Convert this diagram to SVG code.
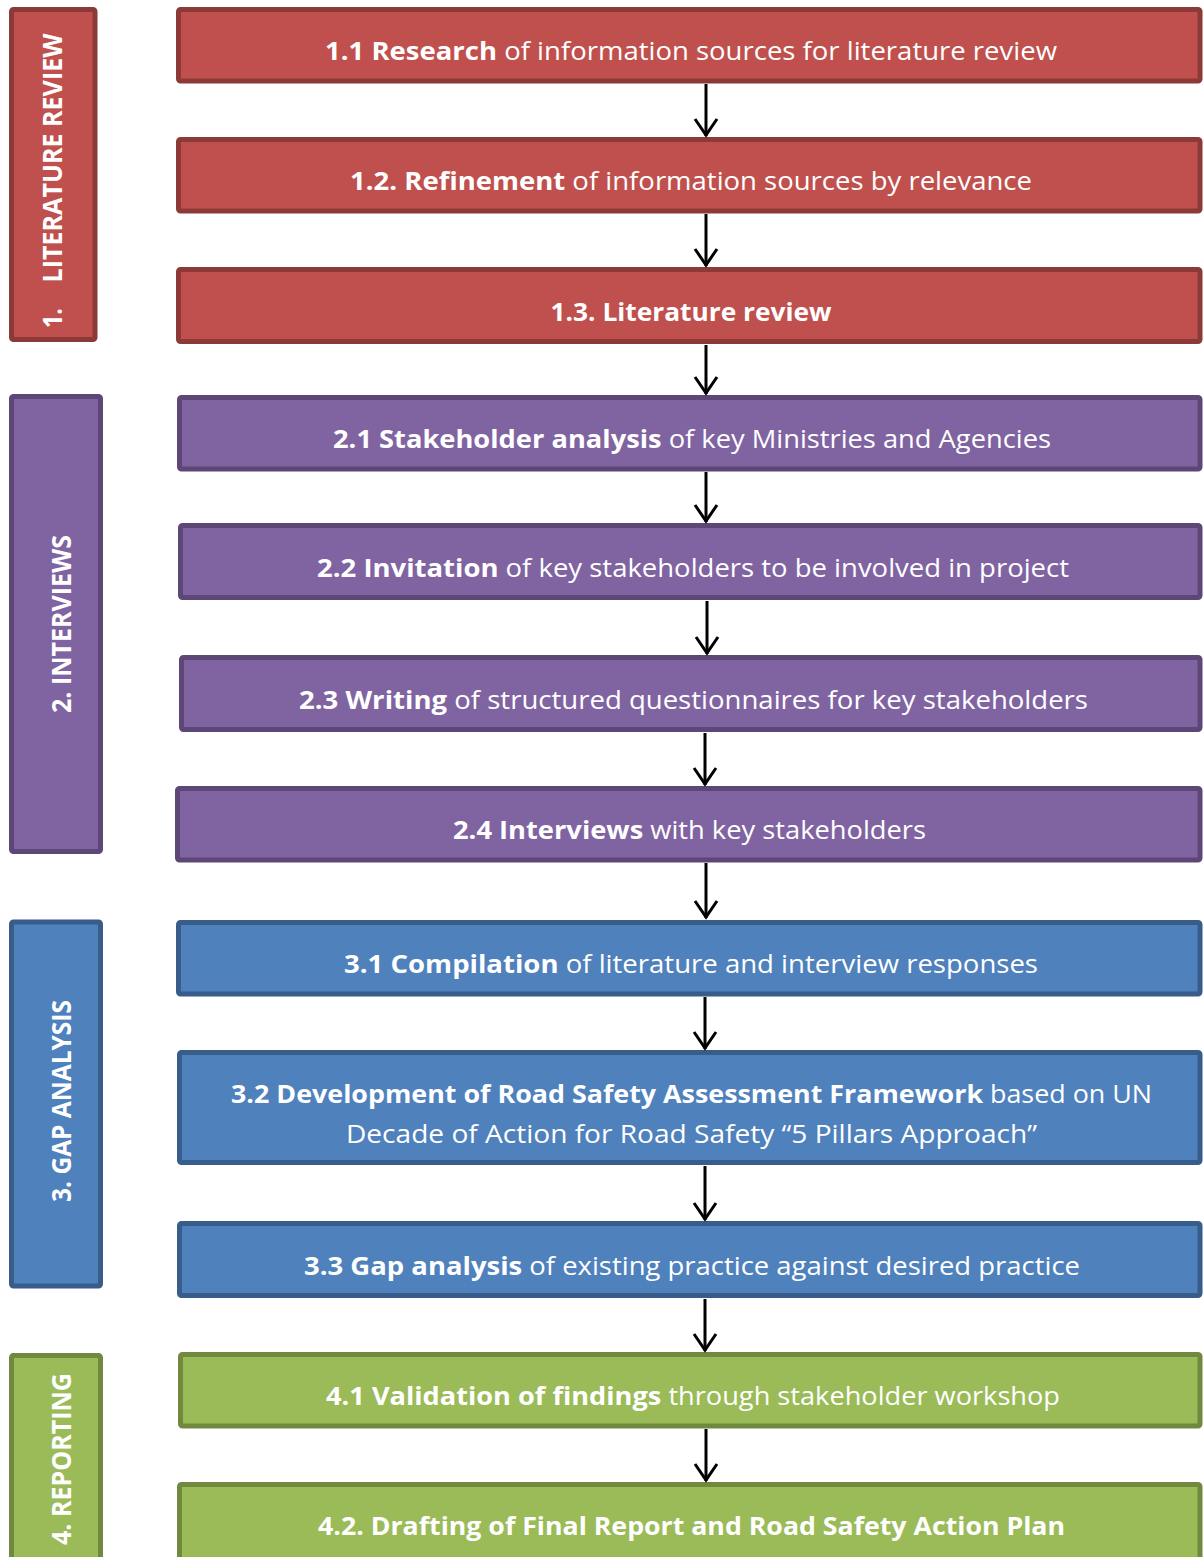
<svg xmlns="http://www.w3.org/2000/svg" width="1203" height="1557" viewBox="0 0 1203 1557">
<defs>
<style>
.box{stroke-width:5;}
.red{fill:#C0504D;stroke:#8C3A38;}
.pur{fill:#8064A2;stroke:#5C4776;}
.blu{fill:#4F81BD;stroke:#385D8A;}
.grn{fill:#9BBB59;stroke:#71893F;}
.t{font-family:"Open Sans","Liberation Sans",sans-serif;font-size:25px;fill:#fff;text-anchor:middle;}
.b{font-weight:bold;}
.s{font-family:"Open Sans","Liberation Sans",sans-serif;font-size:26px;font-weight:bold;fill:#fff;text-anchor:middle;}
.arr{stroke:#000;stroke-width:3;fill:none;}
</style>
<marker id="ah" markerUnits="userSpaceOnUse" markerWidth="30" markerHeight="30" viewBox="-20 -15 30 30" refX="0" refY="0" orient="auto">
<path d="M-17,-11 L-1,0 L-17,11" fill="none" stroke="#000" stroke-width="3"/>
</marker>
</defs>
<rect width="1203" height="1557" fill="#fff"/>

<g id="side1"><rect class="box red" x="11.5" y="9.5" width="83.5" height="330" rx="2"/>
<text class="s" transform="translate(62,318) rotate(-90)" textLength="20" lengthAdjust="spacingAndGlyphs">1.</text>
<text class="s" transform="translate(62,158) rotate(-90)" textLength="249" lengthAdjust="spacingAndGlyphs">LITERATURE REVIEW</text></g>
<g id="side2"><rect class="box pur" x="11.5" y="396.5" width="89" height="455" rx="2"/>
<text class="s" transform="translate(71,624) rotate(-90)" textLength="178" lengthAdjust="spacingAndGlyphs">2. INTERVIEWS</text></g>
<g id="side3"><rect class="box blu" x="11.5" y="922" width="89" height="364" rx="2"/>
<text class="s" transform="translate(71,1101) rotate(-90)" textLength="202" lengthAdjust="spacingAndGlyphs">3. GAP ANALYSIS</text></g>
<g id="side4"><rect class="box grn" x="11.5" y="1355.5" width="89" height="215" rx="2"/>
<text class="s" transform="translate(71,1459) rotate(-90)" textLength="172" lengthAdjust="spacingAndGlyphs">4. REPORTING</text></g>

<g id="n11"><rect class="box red" x="178.5" y="9.5" width="1021.5" height="71.5" rx="2"/>
<text class="t" x="691" y="60" textLength="732" lengthAdjust="spacingAndGlyphs"><tspan class="b">1.1 Research</tspan> of information sources for literature review</text></g>
<g id="n12"><rect class="box red" x="178.5" y="139.5" width="1021.5" height="71.5" rx="2"/>
<text class="t" x="691" y="190" textLength="682" lengthAdjust="spacingAndGlyphs"><tspan class="b">1.2. Refinement</tspan> of information sources by relevance</text></g>
<g id="n13"><rect class="box red" x="178.5" y="269.5" width="1021.5" height="72" rx="2"/>
<text class="t b" x="691" y="321" textLength="281" lengthAdjust="spacingAndGlyphs">1.3. Literature review</text></g>

<g id="n21"><rect class="box pur" x="179.5" y="397.5" width="1020.5" height="71.5" rx="2"/>
<text class="t" x="692" y="448" textLength="718" lengthAdjust="spacingAndGlyphs"><tspan class="b">2.1 Stakeholder analysis</tspan> of key Ministries and Agencies</text></g>
<g id="n22"><rect class="box pur" x="180.5" y="525.5" width="1019.5" height="72" rx="2"/>
<text class="t" x="693" y="577" textLength="752" lengthAdjust="spacingAndGlyphs"><tspan class="b">2.2 Invitation</tspan> of key stakeholders to be involved in project</text></g>
<g id="n23"><rect class="box pur" x="181.5" y="657.5" width="1018.5" height="72" rx="2"/>
<text class="t" x="693.5" y="709" textLength="789" lengthAdjust="spacingAndGlyphs"><tspan class="b">2.3 Writing</tspan> of structured questionnaires for key stakeholders</text></g>
<g id="n24"><rect class="box pur" x="177.5" y="788.5" width="1022.5" height="71.5" rx="2"/>
<text class="t" x="689.5" y="839" textLength="473" lengthAdjust="spacingAndGlyphs"><tspan class="b">2.4 Interviews</tspan> with key stakeholders</text></g>

<g id="n31"><rect class="box blu" x="178.5" y="922.5" width="1021.5" height="71.5" rx="2"/>
<text class="t" x="691" y="973" textLength="694" lengthAdjust="spacingAndGlyphs"><tspan class="b">3.1 Compilation</tspan> of literature and interview responses</text></g>
<g id="n32"><rect class="box blu" x="179.5" y="1052.5" width="1020.5" height="110" rx="2"/>
<text class="t" x="691.5" y="1103" textLength="921" lengthAdjust="spacingAndGlyphs"><tspan class="b">3.2 Development of Road Safety Assessment Framework</tspan> based on UN</text>
<text class="t" x="691.5" y="1143" textLength="691" lengthAdjust="spacingAndGlyphs">Decade of Action for Road Safety “5 Pillars Approach”</text></g>
<g id="n33"><rect class="box blu" x="179.5" y="1223.5" width="1020.5" height="72" rx="2"/>
<text class="t" x="692" y="1275" textLength="776" lengthAdjust="spacingAndGlyphs"><tspan class="b">3.3 Gap analysis</tspan> of existing practice against desired practice</text></g>

<g id="n41"><rect class="box grn" x="180.5" y="1354.5" width="1019.5" height="71.5" rx="2"/>
<text class="t" x="693" y="1405" textLength="734" lengthAdjust="spacingAndGlyphs"><tspan class="b">4.1 Validation of findings</tspan> through stakeholder workshop</text></g>
<g id="n42"><rect class="box grn" x="179.5" y="1484.5" width="1020.5" height="90" rx="2"/>
<text class="t b" x="691.5" y="1535" textLength="747" lengthAdjust="spacingAndGlyphs">4.2. Drafting of Final Report and Road Safety Action Plan</text></g>

<g id="connectors">
<path class="arr" d="M706,84 V136" marker-end="url(#ah)"/>
<path class="arr" d="M706,214 V266" marker-end="url(#ah)"/>
<path class="arr" d="M706,345 V394" marker-end="url(#ah)"/>
<path class="arr" d="M706,472 V522" marker-end="url(#ah)"/>
<path class="arr" d="M707,601 V654" marker-end="url(#ah)"/>
<path class="arr" d="M705,733 V785" marker-end="url(#ah)"/>
<path class="arr" d="M706,863 V918" marker-end="url(#ah)"/>
<path class="arr" d="M705,997 V1049" marker-end="url(#ah)"/>
<path class="arr" d="M705,1166 V1220" marker-end="url(#ah)"/>
<path class="arr" d="M705,1299 V1351" marker-end="url(#ah)"/>
<path class="arr" d="M706,1429 V1481" marker-end="url(#ah)"/>
</g>
</svg>
